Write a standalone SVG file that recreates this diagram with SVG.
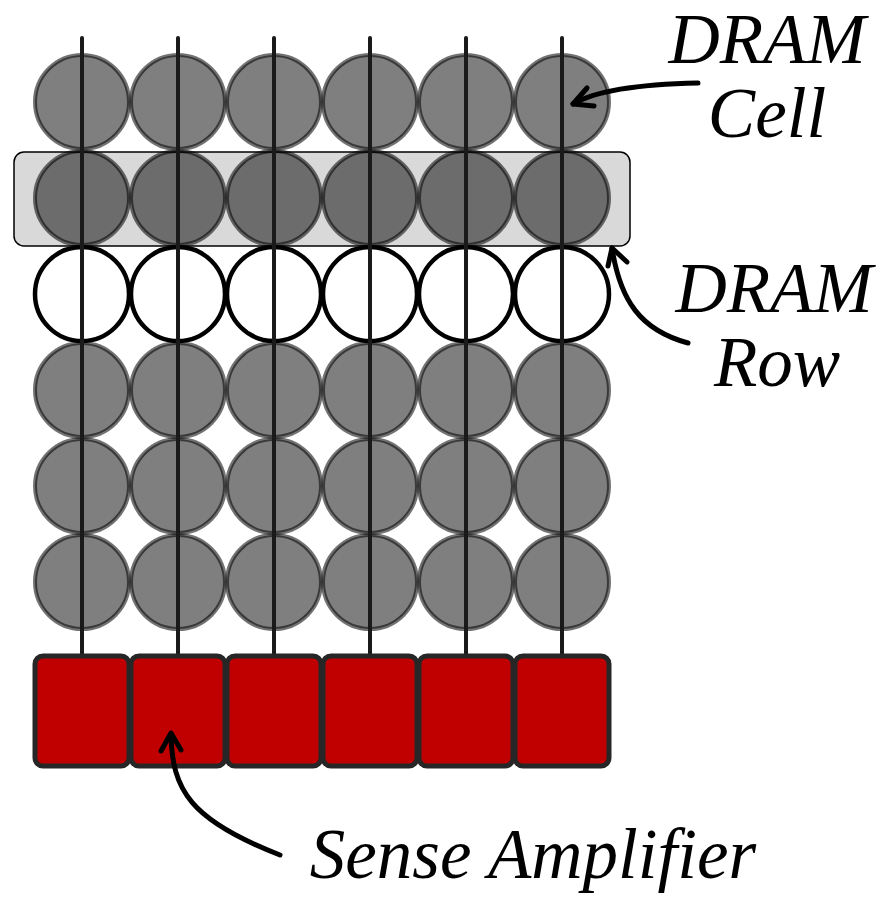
<svg xmlns="http://www.w3.org/2000/svg" width="884" height="900" viewBox="0 0 884 900">
<style>
.cell{fill:#000;fill-opacity:0.5;stroke:#000;stroke-opacity:0.55;stroke-width:4}
.wcell{fill:#fff;stroke:#000;stroke-width:4.5}
.bl{stroke:#1a1a1a;stroke-width:4;stroke-linecap:round}
.sa{fill:#c00000;stroke:#262626;stroke-width:5}
.lbl{font-family:"Liberation Serif",serif;font-style:italic;font-size:71px;fill:#000}
.arr{fill:none;stroke:#000;stroke-width:5;stroke-linecap:round;stroke-linejoin:round}
</style>
<g id="row-highlight">
<rect x="14" y="152" width="616" height="94" rx="10" fill="#d9d9d9" stroke="#000" stroke-width="1.5"/>
</g>
<g id="cells">
<g class="cell">
<circle cx="82" cy="102" r="47"/><circle cx="178" cy="102" r="47"/><circle cx="274" cy="102" r="47"/><circle cx="370" cy="102" r="47"/><circle cx="466" cy="102" r="47"/><circle cx="562" cy="102" r="47"/>
<circle cx="82" cy="198" r="47"/><circle cx="178" cy="198" r="47"/><circle cx="274" cy="198" r="47"/><circle cx="370" cy="198" r="47"/><circle cx="466" cy="198" r="47"/><circle cx="562" cy="198" r="47"/>
<circle cx="82" cy="390" r="47"/><circle cx="178" cy="390" r="47"/><circle cx="274" cy="390" r="47"/><circle cx="370" cy="390" r="47"/><circle cx="466" cy="390" r="47"/><circle cx="562" cy="390" r="47"/>
<circle cx="82" cy="486" r="47"/><circle cx="178" cy="486" r="47"/><circle cx="274" cy="486" r="47"/><circle cx="370" cy="486" r="47"/><circle cx="466" cy="486" r="47"/><circle cx="562" cy="486" r="47"/>
<circle cx="82" cy="582" r="47"/><circle cx="178" cy="582" r="47"/><circle cx="274" cy="582" r="47"/><circle cx="370" cy="582" r="47"/><circle cx="466" cy="582" r="47"/><circle cx="562" cy="582" r="47"/>
</g>
<g class="wcell">
<circle cx="82" cy="294" r="47"/><circle cx="178" cy="294" r="47"/><circle cx="274" cy="294" r="47"/><circle cx="370" cy="294" r="47"/><circle cx="466" cy="294" r="47"/><circle cx="562" cy="294" r="47"/>
</g>
</g>
<g id="bitlines" class="bl">
<line x1="82" y1="38" x2="82" y2="656"/>
<line x1="178" y1="38" x2="178" y2="656"/>
<line x1="274" y1="38" x2="274" y2="656"/>
<line x1="370" y1="38" x2="370" y2="656"/>
<line x1="466" y1="38" x2="466" y2="656"/>
<line x1="562" y1="38" x2="562" y2="656"/>
</g>
<g id="sense-amplifiers" class="sa">
<rect x="35" y="656" width="94" height="110" rx="8"/>
<rect x="131" y="656" width="94" height="110" rx="8"/>
<rect x="227" y="656" width="94" height="110" rx="8"/>
<rect x="323" y="656" width="94" height="110" rx="8"/>
<rect x="419" y="656" width="94" height="110" rx="8"/>
<rect x="515" y="656" width="94" height="110" rx="8"/>
</g>
<g id="connectors" class="arr">
<path d="M698 83 C650 84 600 88 573 104"/>
<path d="M587 88 L573 104 L594 106"/>
<path d="M688 343 C640 330 620 300 612 248"/>
<path d="M608 266 L612 248 L627 262"/>
<path d="M280 855 C190 820 172 790 171 734"/>
<path d="M161 751 L171 733 L181 750"/>
</g>
<g id="labels" class="lbl">
<text text-anchor="middle"><tspan x="767" y="63">DRAM</tspan><tspan x="767" y="137">Cell</tspan></text>
<text text-anchor="middle"><tspan x="774" y="312">DRAM</tspan><tspan x="777" y="386">Row</tspan></text>
<text x="533" y="878" text-anchor="middle">Sense Amplifier</text>
</g>
</svg>
